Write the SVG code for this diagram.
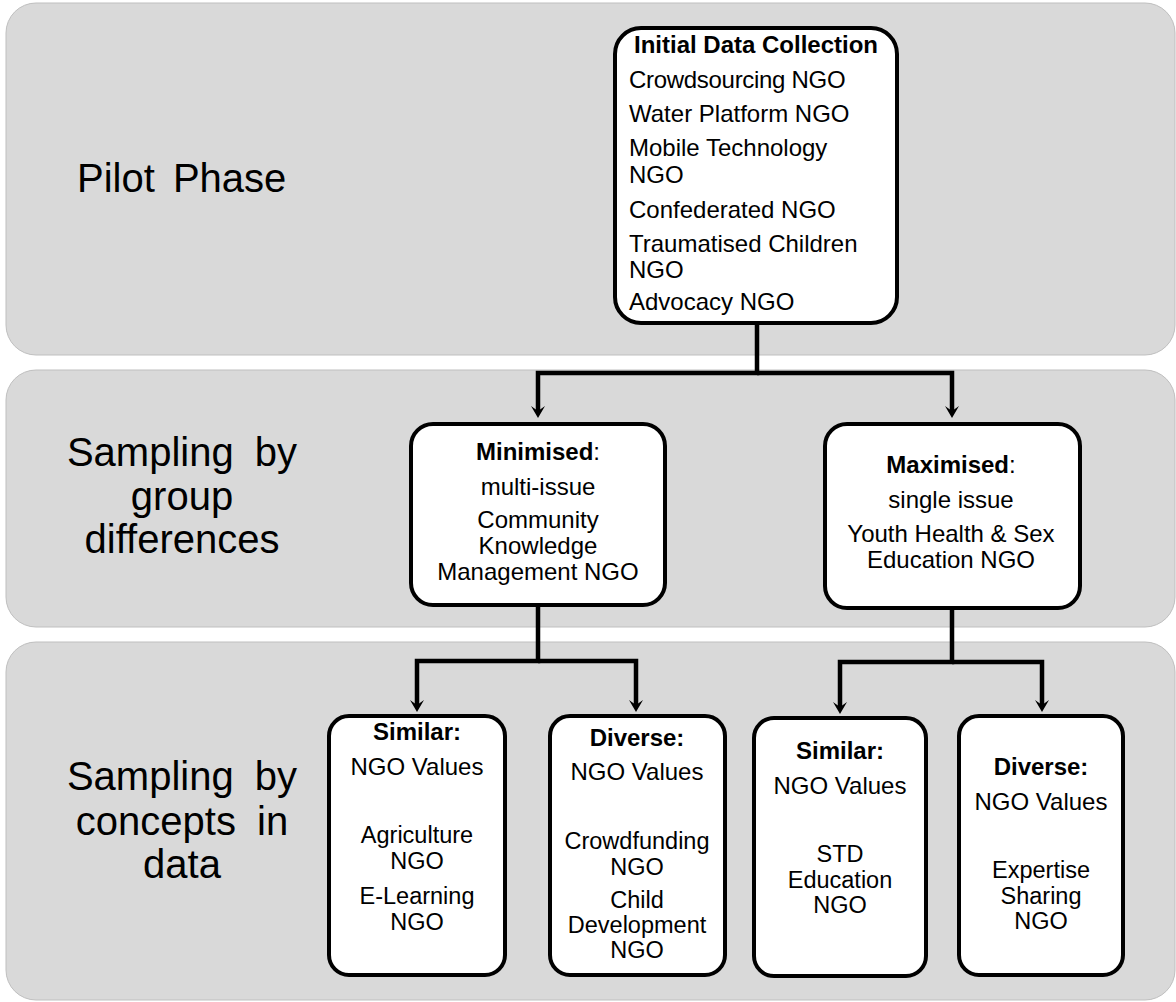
<svg xmlns="http://www.w3.org/2000/svg" width="1176" height="1002" viewBox="0 0 1176 1002">
  <style>
    text { font-family: "Liberation Sans", Arial, sans-serif; fill: #000; }
    .band { fill: #d9d9d9; stroke: #bfbfbf; stroke-width: 1; }
    .box { fill: #fff; stroke: #000; stroke-width: 4; }
    .phase { font-size: 40px; word-spacing: 10px; text-anchor: middle; }
    .t { font-size: 24px; }
    .s { font-size: 23.5px; }
    .c { text-anchor: middle; }
    .b { font-weight: bold; }
    .conn { fill: none; stroke: #000; stroke-width: 4.5; stroke-linejoin: miter; marker-end: url(#arrow); }
  </style>
  <defs>
    <marker id="arrow" markerUnits="userSpaceOnUse" viewBox="-13 -8 14 16" refX="-5" refY="0" markerWidth="14" markerHeight="16" orient="auto">
      <path d="M0,0 L-12,-7 L-7,0 L-12,7 Z" fill="#000"/>
    </marker>
  </defs>

  <!-- phase bands -->
  <g id="bands">
    <rect class="band" x="6" y="3" width="1169" height="352" rx="30"/>
    <rect class="band" x="6" y="370" width="1169" height="257" rx="30"/>
    <rect class="band" x="6" y="642" width="1169" height="358" rx="30"/>
  </g>

  <!-- phase labels -->
  <g id="labels">
    <text class="phase" x="77" y="192" style="text-anchor:start;word-spacing:7px">Pilot Phase</text>
    <text class="phase" x="182" y="466">Sampling by</text>
    <text class="phase" x="182" y="510">group</text>
    <text class="phase" x="182" y="553">differences</text>
    <text class="phase" x="182" y="790">Sampling by</text>
    <text class="phase" x="182" y="835">concepts in</text>
    <text class="phase" x="182" y="878">data</text>
  </g>

  <!-- connectors -->
  <g id="connectors">
    <path class="conn" d="M757,325 V373 H538 V413"/>
    <path class="conn" d="M757,373 H952 V413"/>
    <path class="conn" d="M538,607 V661 H417 V707"/>
    <path class="conn" d="M538,661 H636 V707"/>
    <path class="conn" d="M952,610 V662 H840 V709"/>
    <path class="conn" d="M952,662 H1042 V707"/>
  </g>

  <g id="initial">
    <rect class="box" x="615" y="28" width="282" height="295" rx="26"/>
    <text class="t b c" x="756" y="53">Initial Data Collection</text>
    <text class="t" x="629" y="88" style="letter-spacing:-0.3px">Crowdsourcing NGO</text>
    <text class="t" x="629" y="122">Water Platform NGO</text>
    <text class="t" x="629" y="156">Mobile Technology</text>
    <text class="t" x="629" y="183">NGO</text>
    <text class="t" x="629" y="218">Confederated NGO</text>
    <text class="t" x="629" y="252">Traumatised Children</text>
    <text class="t" x="629" y="278">NGO</text>
    <text class="t" x="629" y="310">Advocacy NGO</text>
  </g>

  <g id="minimised">
    <rect class="box" x="411" y="424" width="254" height="181" rx="22"/>
    <text class="t c" x="538" y="460"><tspan class="b">Minimised</tspan>:</text>
    <text class="t c" x="538" y="495">multi-issue</text>
    <text class="t c" x="538" y="528">Community</text>
    <text class="t c" x="538" y="554">Knowledge</text>
    <text class="t c" x="538" y="580">Management NGO</text>
  </g>

  <g id="maximised">
    <rect class="box" x="825" y="424" width="255" height="184" rx="22"/>
    <text class="t c" x="951" y="473"><tspan class="b">Maximised</tspan>:</text>
    <text class="t c" x="951" y="508">single issue</text>
    <text class="t c" x="951" y="542">Youth Health &amp; Sex</text>
    <text class="t c" x="951" y="568">Education NGO</text>
  </g>

  <g id="similar-1">
    <rect class="box" x="329" y="716" width="176" height="259" rx="20"/>
    <text class="t b c" x="417" y="740">Similar:</text>
    <text class="t c" x="417" y="775">NGO Values</text>
    <text class="s c" x="417" y="843">Agriculture</text>
    <text class="s c" x="417" y="869">NGO</text>
    <text class="s c" x="417" y="904">E-Learning</text>
    <text class="s c" x="417" y="930">NGO</text>
  </g>

  <g id="diverse-1">
    <rect class="box" x="550" y="716" width="175" height="259" rx="20"/>
    <text class="t b c" x="637" y="746">Diverse:</text>
    <text class="t c" x="637" y="780">NGO Values</text>
    <text class="s c" x="637" y="849">Crowdfunding</text>
    <text class="s c" x="637" y="875">NGO</text>
    <text class="s c" x="637" y="908">Child</text>
    <text class="s c" x="637" y="933">Development</text>
    <text class="s c" x="637" y="958">NGO</text>
  </g>

  <g id="similar-2">
    <rect class="box" x="754" y="718" width="172" height="258" rx="20"/>
    <text class="t b c" x="840" y="759">Similar:</text>
    <text class="t c" x="840" y="794">NGO Values</text>
    <text class="s c" x="840" y="862">STD</text>
    <text class="s c" x="840" y="888">Education</text>
    <text class="s c" x="840" y="913">NGO</text>
  </g>

  <g id="diverse-2">
    <rect class="box" x="959" y="716" width="164" height="259" rx="20"/>
    <text class="t b c" x="1041" y="775">Diverse:</text>
    <text class="t c" x="1041" y="810">NGO Values</text>
    <text class="s c" x="1041" y="878">Expertise</text>
    <text class="s c" x="1041" y="904">Sharing</text>
    <text class="s c" x="1041" y="929">NGO</text>
  </g>
</svg>
